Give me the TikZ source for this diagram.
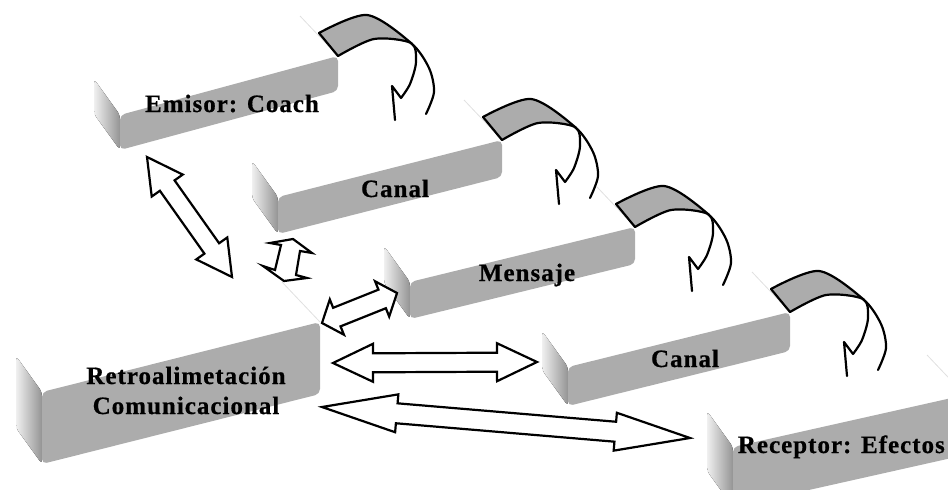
\documentclass[tikz,border=0pt]{standalone}
\usepackage{fontspec}
\newfontfamily\lblfont{Liberation Serif}[LetterSpace=4, BoldFeatures={FakeBold=0.6}]
\usetikzlibrary{calc}
\definecolor{slabgray}{RGB}{172,172,172}
\definecolor{bandgray}{RGB}{172,172,172}
\tikzset{
  frontface/.style={fill=slabgray, rounded corners=5pt},
  endface/.style={left color=black!6, right color=black!42, rounded corners=4pt},
  faintedge/.style={draw=black!12, line width=0.8pt},
  bandfill/.style={fill=bandgray},
  ribbon/.style={draw=black, line width=2.2pt, line cap=round, line join=round},
  blockarrow/.style={draw=black, fill=white, line width=2.2pt, line join=miter},
  lbl/.style={font=\lblfont\bfseries\fontsize{25}{29}\selectfont, inner sep=0pt, anchor=base},
}
% #1 front top-left, #2 front top-right, #3 height
\newcommand\slab[3]{%
  \fill[endface] ($(#1)+(-26,-36)$) -- (#1) -- ($(#1)+(0,#3)$) -- ($(#1)+(-26,#3-36)$) -- cycle;
  \fill[frontface] (#1) -- (#2) -- ($(#2)+(0,#3)$) -- ($(#1)+(0,#3)$) -- cycle;
  \draw[faintedge] (#2) -- ($(#2)+(-38,-40)$);
}
% curved ribbon arrow starting at the front top-right corner #1
\newcommand\ribbonat[1]{%
  \begin{scope}[shift={(#1)}]
    \fill[bandfill] plot[smooth] coordinates {(-19,-23) (29,-41) (73,-13)}
      -- plot[smooth] coordinates {(73,-13) (36,-17) (0,0)} -- cycle;
    \draw[ribbon] (-19,-23) -- (0,0);
    \draw[ribbon] plot[smooth] coordinates {(-19,-23) (29,-41) (73,-13) (91,12) (96,36) (88,58)};
    \draw[ribbon] plot[smooth] coordinates {(0,0) (36,-17) (73,-13) (78,6) (72,28) (63,42)} -- (54,30) -- (57,64);
  \end{scope}
}
% double block arrow: #1 tip, #2 tip, #3 head length, #4 head half width, #5 shaft half width
\newcommand\dblarrow[5]{%
  \coordinate (hA) at ($(#1)!#3!(#2)$);
  \coordinate (hB) at ($(#2)!#3!(#1)$);
  \draw[blockarrow] (#1) -- ($(hA)!#4!90:(#2)$) -- ($(hA)!#5!90:(#2)$)
    -- ($(hB)!#5!-90:(#1)$) -- ($(hB)!#4!-90:(#1)$) -- (#2)
    -- ($(hB)!#4!90:(#1)$) -- ($(hB)!#5!90:(#1)$)
    -- ($(hA)!#5!-90:(#2)$) -- ($(hA)!#4!-90:(#2)$) -- cycle;
}
\begin{document}
\begin{tikzpicture}[x=1pt,y=-1pt]
\useasboundingbox (0,0) rectangle (948,490);
\clip (0,0) rectangle (948,490);
% block corners
\coordinate (emA) at (120,115); \coordinate (emB) at (338,56);
\coordinate (caA) at (278,197); \coordinate (caB) at (502,140);
\coordinate (meA) at (410,282); \coordinate (meB) at (635,227);
\coordinate (cbA) at (568,367); \coordinate (cbB) at (790,312);
\coordinate (reA) at (733,447); \coordinate (reB) at (965,395);
\coordinate (rtA) at (42,392);  \coordinate (rtB) at (320,322);
% blocks, back to front
\slab{emA}{emB}{35}
\ribbonat{emB}
\slab{caA}{caB}{37}
\ribbonat{caB}
\slab{meA}{meB}{37}
\ribbonat{meB}
\slab{cbA}{cbB}{39}
\ribbonat{cbB}
\slab{reA}{reB}{60}
\slab{rtA}{rtB}{72}
% labels
\node[lbl] (emisor) at (232,112) {Emisor: Coach};
\node[lbl] (canal1) at (395,197) {Canal};
\node[lbl] (mensaje) at (527,281) {Mensaje};
\node[lbl] (canal2) at (685,367) {Canal};
\node[lbl, anchor=base east] (receptor) at (945,453) {Receptor: Efectos};
\node[lbl] (retroA) at (186,384) {Retroalimetación};
\node[lbl] (retroB) at (186,414) {Comunicacional};
% arrow tips
\coordinate (aEm) at (147,157); \coordinate (aEmR) at (232,277);
\coordinate (aMe) at (397,293); \coordinate (aMeR) at (322,323);
\coordinate (aCb) at (537,362); \coordinate (aCbR) at (333,363);
\coordinate (aRe) at (690,438); \coordinate (aReR) at (322,407);
% double arrows
\dblarrow{aEm}{aEmR}{35pt}{19pt}{9pt}
\dblarrow{aMeR}{aMe}{16pt}{19pt}{10pt}
\dblarrow{aCbR}{aCb}{40pt}{19pt}{9.5pt}
\dblarrow{aReR}{aRe}{75pt}{19pt}{10pt}
% small foreshortened arrow between upper Canal and Retroalimentacion
\coordinate (aCa) at (293,239); \coordinate (aCaR) at (284,281);
\draw[blockarrow] (aCa) -- (312,253) -- (300,251) -- (296,275) -- (307,278)
  -- (aCaR) -- (263,266) -- (275,270) -- (281,245) -- (270,243) -- cycle;
\end{tikzpicture}
\end{document}
